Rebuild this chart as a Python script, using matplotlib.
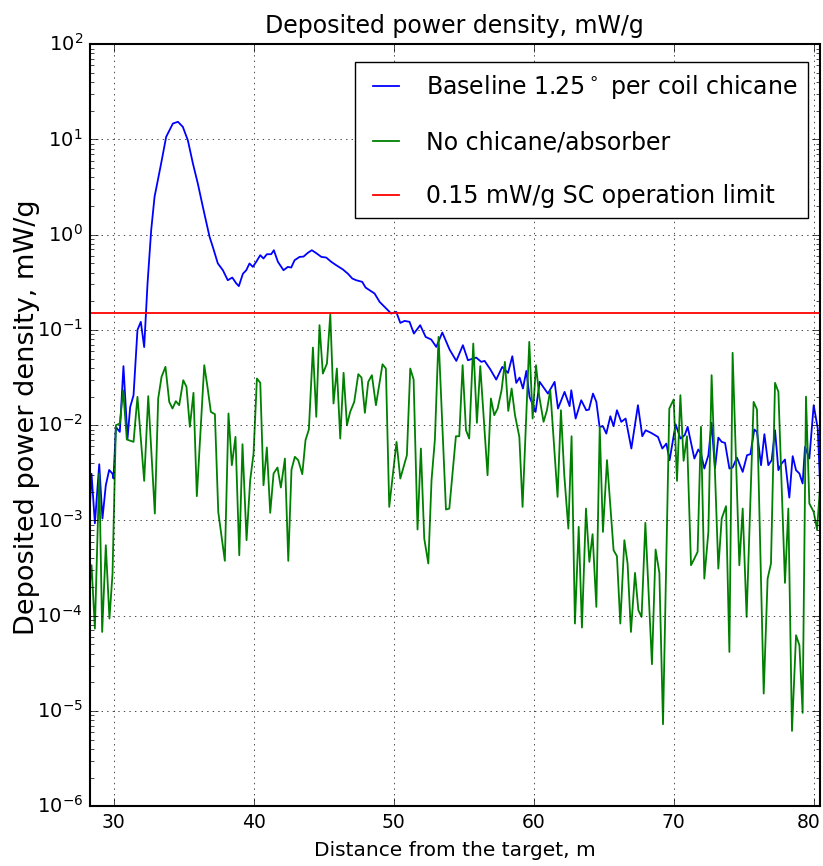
#!/usr/bin/env python3
"""Deposited power density along the beamline: baseline chicane vs. no chicane."""

import numpy as np
import matplotlib
matplotlib.use('Agg')
import matplotlib.pyplot as plt
from matplotlib.transforms import ScaledTranslation

# ── data (log10 of mW/g) ────────────────────────────────────────────────
baseline_x = [
    28.26, 28.43, 28.67, 28.98, 29.21, 29.45, 29.69, 29.93, 30.0, 30.17,
    30.45, 30.71, 31.0, 31.19, 31.43, 31.71, 31.95, 32.19, 32.43, 32.69,
    32.93, 33.4, 33.76, 34.24, 34.6, 34.95, 35.31, 35.67, 36.02, 36.38,
    36.86, 37.09, 37.45, 37.81, 38.16, 38.48, 38.76, 38.95, 39.24, 39.48,
    39.71, 39.95, 40.19, 40.48, 40.71, 40.95, 41.26, 41.45, 41.74, 42.14,
    42.45, 42.69, 42.93, 43.29, 43.57, 43.88, 44.16, 44.48, 44.84, 45.19,
    45.55, 45.9, 46.38, 46.74, 47.05, 47.33, 47.76, 48.0, 48.29, 48.64,
    49.0, 49.83, 50.19, 50.48, 50.79, 51.14, 51.45, 51.9, 52.29, 52.69,
    53.05, 53.48, 54.0, 54.48, 54.95, 55.31, 55.9, 56.26, 56.5, 56.9,
    57.33, 57.76, 58.17, 58.48, 58.76, 59.0, 59.24, 59.48, 59.71, 60.14,
    60.43, 61.02, 61.5, 61.74, 62.21, 62.57, 62.69, 63.0, 63.4, 63.76,
    63.95, 64.24, 64.48, 64.71, 64.95, 65.19, 65.48, 65.71, 65.95, 66.26,
    66.57, 66.98, 67.45, 67.76, 68.0, 68.4, 68.88, 69.19, 69.48, 69.71,
    70.14, 70.48, 70.79, 71.0, 71.48, 71.76, 71.95, 72.19, 72.48, 72.71,
    72.95, 73.19, 73.43, 73.67, 73.98, 74.21, 74.52, 74.93, 75.24, 75.48,
    75.76, 75.95, 76.24, 76.48, 76.76, 77.0, 77.24, 77.48, 77.71, 77.95,
    78.26, 78.5, 78.74, 78.98, 79.21, 79.38, 79.69, 80.0, 80.29, 80.48,
]
baseline_log10 = [
    -3.0, -2.51, -3.03, -2.41, -2.98, -2.63, -2.47, -2.51, -2.56, -2.02,
    -2.07, -1.38, -2.14, -1.81, -1.685, -1.0, -0.915, -1.18, -0.51, 0.047,
    0.397, 0.747, 1.027, 1.167, 1.185, 1.132, 0.99, 0.747, 0.537, 0.292,
    -0.023, -0.128, -0.302, -0.373, -0.478, -0.45, -0.51, -0.54, -0.41, -0.373,
    -0.302, -0.338, -0.285, -0.215, -0.25, -0.205, -0.205, -0.163, -0.285, -0.373,
    -0.338, -0.345, -0.268, -0.233, -0.23, -0.19, -0.163, -0.194, -0.233, -0.24,
    -0.285, -0.32, -0.365, -0.41, -0.46, -0.478, -0.495, -0.555, -0.583, -0.617,
    -0.705, -0.828, -0.81, -0.926, -0.905, -0.915, -1.038, -0.95, -1.073, -1.101,
    -1.178, -1.027, -1.206, -1.325, -1.16, -1.318, -1.29, -1.335, -1.325, -1.412,
    -1.521, -1.388, -1.451, -1.276, -1.556, -1.5, -1.615, -1.43, -1.703, -1.86,
    -1.545, -1.668, -1.545, -1.825, -1.65, -1.8, -1.633, -1.93, -1.738, -1.843,
    -1.836, -1.668, -1.755, -2.018, -2.011, -2.088, -1.906, -2.011, -1.843, -1.965,
    -1.93, -2.245, -1.79, -2.116, -2.053, -2.081, -2.123, -2.245, -2.193, -2.368,
    -1.99, -2.14, -2.105, -2.017, -2.35, -2.255, -2.297, -2.455, -2.315, -1.975,
    -2.455, -2.13, -2.175, -2.186, -2.455, -2.444, -2.34, -2.49, -2.315, -2.304,
    -2.045, -2.07, -2.42, -2.094, -2.42, -2.367, -2.052, -2.472, -2.402, -2.36,
    -2.76, -2.325, -2.472, -2.507, -2.612, -2.227, -2.35, -1.79, -2.035, -2.7,
]

nochicane_x = [
    28.21, 28.43, 28.67, 28.98, 29.19, 29.45, 29.71, 29.93, 30.17, 30.45,
    30.69, 30.95, 31.43, 31.71, 32.19, 32.48, 32.95, 33.19, 33.43, 33.71,
    33.98, 34.21, 34.45, 34.69, 34.98, 35.21, 35.45, 35.71, 35.95, 36.48,
    36.71, 36.95, 37.24, 37.48, 37.95, 38.21, 38.45, 38.71, 38.98, 39.21,
    39.5, 39.76, 40.0, 40.24, 40.48, 40.71, 40.95, 41.19, 41.43, 41.71,
    41.95, 42.24, 42.48, 42.71, 42.95, 43.19, 43.48, 43.71, 43.95, 44.24,
    44.48, 44.71, 44.95, 45.24, 45.48, 45.71, 45.95, 46.19, 46.43, 46.67,
    46.9, 47.19, 47.48, 47.71, 47.95, 48.19, 48.45, 48.74, 49.21, 49.45,
    49.69, 50.21, 50.48, 50.95, 51.19, 51.43, 51.71, 51.95, 52.19, 52.48,
    52.71, 52.95, 53.21, 53.74, 53.98, 54.1, 54.45, 54.69, 54.93, 55.17,
    55.4, 55.69, 55.95, 56.19, 56.71, 56.95, 57.19, 57.43, 57.71, 57.95,
    58.19, 58.43, 58.67, 58.98, 59.21, 59.69, 59.93, 60.17, 60.4, 60.71,
    60.95, 61.19, 61.71, 61.95, 62.19, 62.48, 62.71, 62.95, 63.22, 63.45,
    63.74, 63.98, 64.21, 64.48, 64.72, 64.95, 65.24, 65.71, 65.95, 66.19,
    66.48, 66.71, 66.95, 67.24, 67.48, 67.71, 67.98, 68.45, 68.71, 68.98,
    69.24, 69.69, 70.0, 70.24, 70.48, 70.71, 70.95, 71.24, 71.48, 71.71,
    71.95, 72.19, 72.48, 72.71, 73.19, 73.43, 73.74, 73.98, 74.21, 74.69,
    74.93, 75.21, 75.71, 75.95, 76.43, 76.71, 76.95, 77.24, 77.48, 77.95,
    78.19, 78.45, 78.74, 78.98, 79.21, 79.45, 79.69, 80.0, 80.24, 80.43,
]
nochicane_log10 = [
    -3.837, -3.47, -4.135, -2.507, -4.17, -3.26, -4.03, -3.557, -2.0, -1.982,
    -1.632, -2.15, -2.175, -1.702, -2.584, -1.695, -2.927, -1.72, -1.492, -1.387,
    -1.755, -1.825, -1.748, -1.79, -1.528, -1.597, -2.017, -1.66, -2.745, -1.37,
    -1.598, -1.86, -1.885, -2.91, -3.424, -1.877, -2.42, -2.122, -3.365, -2.2,
    -3.207, -2.577, -2.297, -1.51, -1.555, -2.63, -2.234, -2.92, -2.507, -2.444,
    -2.654, -2.35, -3.424, -2.465, -2.332, -2.367, -2.514, -2.157, -2.045, -1.185,
    -1.912, -0.95, -1.458, -1.353, -0.835, -1.772, -1.405, -2.14, -1.45, -2.0,
    -1.86, -1.755, -1.464, -1.5, -1.87, -1.545, -1.475, -1.79, -1.36, -1.405,
    -2.857, -2.175, -2.56, -2.315, -1.405, -1.52, -3.095, -2.245, -3.19, -3.452,
    -2.577, -2.15, -1.073, -2.885, -2.875, -2.683, -2.116, -2.116, -1.37, -2.052,
    -2.14, -1.143, -1.975, -1.38, -2.525, -1.72, -1.895, -1.825, -1.633, -1.335,
    -1.85, -1.615, -1.895, -2.122, -2.857, -1.125, -1.93, -1.37, -1.695, -1.965,
    -1.843, -1.633, -2.752, -1.843, -2.525, -3.085, -2.116, -4.082, -3.067, -4.124,
    -2.875, -3.435, -3.144, -3.907, -2.017, -3.12, -2.367, -3.312, -3.375, -4.082,
    -3.207, -3.452, -4.17, -3.55, -3.942, -4.012, -3.025, -4.509, -3.305, -3.55,
    -5.139, -1.825, -1.73, -2.584, -1.685, -2.374, -2.116, -3.47, -3.4, -3.33,
    -2.017, -3.61, -3.12, -1.475, -3.505, -2.98, -2.85, -4.38, -1.24, -3.47,
    -2.875, -4.012, -1.755, -1.835, -4.817, -3.61, -3.452, -1.555, -1.65, -3.655,
    -2.875, -5.209, -4.205, -4.31, -5.02, -1.7, -2.822, -2.91, -3.095, -2.7,
]

sc_limit = 0.15  # mW/g

x_ticks = [30, 40, 50, 60, 70, 80]

labels = [r'Baseline 1.25$^\circ$ per coil chicane',
          'No chicane/absorber',
          '0.15 mW/g SC operation limit']


def main():
    plt.style.use('classic')
    plt.rcParams['figure.facecolor'] = 'white'
    plt.rcParams['savefig.facecolor'] = 'white'
    plt.rcParams['font.family'] = ['DejaVu Sans']
    plt.rcParams['mathtext.fontset'] = 'dejavusans'
    plt.rcParams['mathtext.default'] = 'regular'

    fig = plt.figure(figsize=(8.23, 8.66), dpi=100)
    ax = fig.add_axes([0.109, 0.069, 0.887, 0.880])

    ax.plot(baseline_x, 10.0 ** np.array(baseline_log10),
            color='b', linewidth=1.3, label=labels[0])
    ax.plot(nochicane_x, 10.0 ** np.array(nochicane_log10),
            color='g', linewidth=1.3, label=labels[1])
    ax.axhline(sc_limit, color='r', linewidth=1.3, label=labels[2])

    ax.set_yscale('log')
    ax.set_xlim(28.3, 80.43)
    ax.set_ylim(1e-6, 1e2)
    ax.set_xticks(x_ticks)
    ax.grid(True)
    for sp in ax.spines.values():
        sp.set_linewidth(1.5)
    ax.tick_params(axis='both', which='major', length=6, pad=5)
    ax.tick_params(axis='x', which='major', labelsize=13.5)
    ax.tick_params(axis='y', which='major', labelsize=14)
    ax.tick_params(axis='y', which='minor', length=3)

    # last x label sits right at the figure edge; nudge it inside
    last = ax.get_xticklabels()[-1]
    last.set_transform(last.get_transform()
                       + ScaledTranslation(-4 / 72, 0, fig.dpi_scale_trans))

    ax.set_title('Deposited power density, mW/g', fontsize=17, pad=8)
    ax.set_xlabel('Distance from the target, m', fontsize=14.5, labelpad=6)
    ax.set_ylabel('Deposited power density, mW/g', fontsize=19.5)
    ax.yaxis.set_label_coords(-0.068, 0.51)

    ax.legend(loc='upper right', bbox_to_anchor=(0.9836, 0.9764),
              borderaxespad=0.0, fontsize=17, labelspacing=1.25,
              handlelength=1.7, handletextpad=0.85, borderpad=0.45,
              frameon=True)

    fig.savefig('out.png', dpi=100)


if __name__ == '__main__':
    main()
